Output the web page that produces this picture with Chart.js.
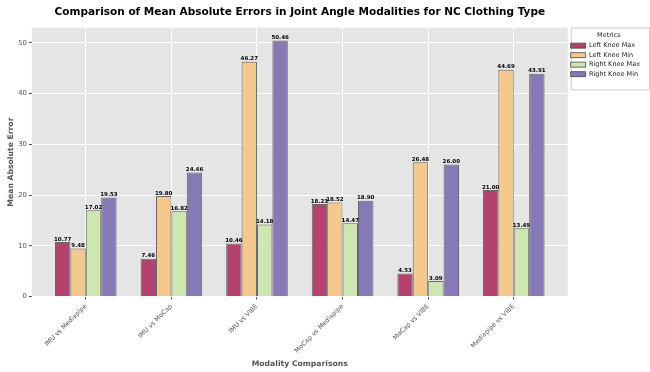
<!DOCTYPE html>
<html>
<head>
<meta charset="utf-8">
<script src="https://cdn.jsdelivr.net/npm/chart.js@4.4.1/dist/chart.umd.min.js"></script>
<style>
  html, body { margin: 0; padding: 0; background: #fff; }
  #wrap { width: 650px; height: 372px; position: relative; }
</style>
</head>
<body>
<div id="wrap"><canvas id="chart"></canvas></div>
<script>
// Categories and series values
const comparisons = ['IMU vs Mediapipe', 'IMU vs MoCap', 'IMU vs VIBE', 'MoCap vs Mediapipe', 'MoCap vs VIBE', 'Mediapipe vs VIBE'];
const leftKneeMax = [10.77, 7.46, 10.46, 18.23, 4.53, 21.00];
const leftKneeMin = [9.48, 19.80, 46.27, 18.52, 26.48, 44.69];
const rightKneeMax = [17.02, 16.82, 14.18, 14.47, 3.09, 13.49];
const rightKneeMin = [19.53, 24.46, 50.46, 18.90, 26.00, 43.91];
const yTicks = [0, 10, 20, 30, 40, 50];

const FONT = 'DejaVu Sans';
const GREY = '#555555';

// Grey plot background + white legend frame
const backdrop = {
  id: 'backdrop',
  beforeDraw(chart) {
    const { ctx, chartArea: a, legend } = chart;
    ctx.save();
    ctx.fillStyle = '#e5e5e5';
    ctx.fillRect(a.left, a.top, a.right - a.left, a.bottom - a.top);
    if (legend && legend.legendHitBoxes.length) {
      const boxes = legend.legendHitBoxes;
      const last = boxes[boxes.length - 1];
      const x = legend.left + 3;
      const y = legend.top;
      const w = legend.right - legend.left - 4;
      const h = last.top + last.height + 12 - y;
      ctx.fillStyle = '#ffffff';
      ctx.strokeStyle = '#cccccc';
      ctx.lineWidth = 1;
      ctx.fillRect(x, y, w, h);
      ctx.strokeRect(x + 0.5, y + 0.5, w, h);
    }
    ctx.restore();
  }
};

// Value labels above each bar
const valueLabels = {
  id: 'valueLabels',
  afterDatasetsDraw(chart) {
    const { ctx } = chart;
    ctx.save();
    ctx.font = 'bold 5.5px ' + FONT;
    ctx.fillStyle = '#000';
    ctx.textAlign = 'center';
    ctx.textBaseline = 'bottom';
    chart.data.datasets.forEach((ds, i) => {
      chart.getDatasetMeta(i).data.forEach((bar, j) => {
        ctx.fillText(ds.data[j].y.toFixed(2), bar.x, bar.y);
      });
    });
    ctx.restore();
  }
};

function makeSet(label, values, color) {
  return {
    label: label,
    data: values.map((v, i) => ({ x: i, y: v })),
    backgroundColor: color,
    borderColor: 'rgba(60,60,60,0.75)',
    borderWidth: 1,
    categoryPercentage: 0.72,
    barPercentage: 1.0
  };
}

new Chart(document.getElementById('chart'), {
  type: 'bar',
  data: {
    datasets: [
      makeSet('Left Knee Max', leftKneeMax, '#b4426e'),
      makeSet('Left Knee Min', leftKneeMin, '#f5c98e'),
      makeSet('Right Knee Max', rightKneeMax, '#cde6b2'),
      makeSet('Right Knee Min', rightKneeMin, '#8679b6')
    ]
  },
  options: {
    responsive: true,
    maintainAspectRatio: false,
    animation: false,
    layout: { padding: { left: 6, right: 0, top: 0, bottom: 3 } },
    plugins: {
      title: {
        display: true,
        fullSize: false,
        text: 'Comparison of Mean Absolute Errors in Joint Angle Modalities for NC Clothing Type',
        color: '#000',
        font: { family: FONT, size: 10.5, weight: 'bold' },
        padding: { top: 6, bottom: 9 }
      },
      legend: {
        position: 'right',
        align: 'start',
        fullSize: false,
        title: {
          display: true,
          text: 'Metrics',
          color: '#222',
          font: { family: FONT, size: 6.5 },
          padding: { top: 4, bottom: 0 }
        },
        labels: {
          color: '#222',
          font: { family: FONT, size: 6.5 },
          boxWidth: 15,
          boxHeight: 5,
          padding: 3
        }
      },
      tooltip: { enabled: false }
    },
    scales: {
      x: {
        type: 'linear',
        offset: false,
        min: -0.63,
        max: 5.63,
        afterBuildTicks(scale) {
          scale.ticks = comparisons.map((c, i) => ({ value: i }));
        },
        grid: { color: '#ffffff', offset: false, tickColor: GREY, tickLength: 3 },
        border: { display: false },
        ticks: {
          color: GREY,
          font: { family: FONT, size: 6.4 },
          maxRotation: 45,
          minRotation: 45,
          padding: 3,
          callback: (v) => comparisons[v]
        },
        title: {
          display: true,
          text: 'Modality Comparisons',
          color: GREY,
          font: { family: FONT, size: 7.7, weight: 'bold' },
          padding: { top: 2, bottom: 0 }
        }
      },
      y: {
        min: 0,
        max: 52.98,
        afterBuildTicks(scale) {
          scale.ticks = yTicks.map(v => ({ value: v }));
        },
        grid: { color: '#ffffff', tickColor: GREY, tickLength: 3 },
        border: { display: false },
        ticks: {
          color: GREY,
          font: { family: FONT, size: 6.8 },
          padding: 2
        },
        title: {
          display: true,
          text: 'Mean Absolute Error',
          color: GREY,
          font: { family: FONT, size: 7.7, weight: 'bold' },
          padding: { top: 0, bottom: 1 }
        }
      }
    }
  },
  plugins: [backdrop, valueLabels]
});
</script>
</body>
</html>
